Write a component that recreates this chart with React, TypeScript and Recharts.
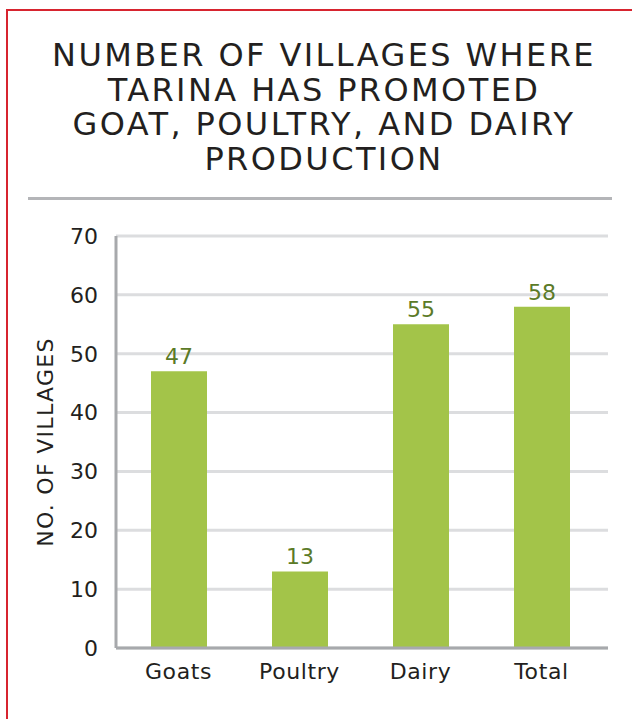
import React from "react";
import {
  BarChart,
  Bar,
  XAxis,
  YAxis,
  CartesianGrid,
  LabelList,
  Label,
} from "recharts";

const categories = ["Goats", "Poultry", "Dairy", "Total"];
const villages = [47, 13, 55, 58];
const yTicks = [0, 10, 20, 30, 40, 50, 60, 70];

const titleLines = [
  "NUMBER OF VILLAGES WHERE",
  "TARINA HAS PROMOTED",
  "GOAT, POULTRY, AND DAIRY",
  "PRODUCTION",
];

const data = categories.map((name, i) => ({ name, value: villages[i] }));

const FONT = "'DejaVu Sans', 'Noto Sans', sans-serif";
const DARK = "#231f20";

const App = () => {
  return (
    <div
      style={{
        position: "absolute",
        left: 0,
        top: 0,
        width: 632,
        height: 719,
        overflow: "hidden",
        background: "#fff",
        fontFamily: FONT,
      }}
    >
      {/* red frame, only left and top edges visible */}
      <div
        style={{
          position: "absolute",
          left: 6,
          top: 9,
          width: 800,
          height: 900,
          border: "2px solid #d7242f",
        }}
      />
      <div
        style={{
          position: "absolute",
          left: 8,
          top: 38,
          width: 632,
          textAlign: "center",
          color: DARK,
          fontSize: 32,
          lineHeight: "34.5px",
          letterSpacing: 2.4,
        }}
      >
        {titleLines.map((t) => (
          <div key={t}>{t}</div>
        ))}
      </div>
      <div
        style={{
          position: "absolute",
          left: 28,
          top: 197,
          width: 584,
          height: 3,
          background: "#b4b5b8",
        }}
      />
      <div style={{ position: "absolute", left: 0, top: 0 }}>
        <BarChart
          width={632}
          height={719}
          data={data}
          margin={{ top: 236, right: 24, bottom: 31, left: 0 }}
          barSize={56}
        >
          <CartesianGrid
            vertical={false}
            stroke="#dcdddf"
            strokeWidth={3}
          />
          <XAxis
            dataKey="name"
            height={40}
            axisLine={{ stroke: "#a7a9ac", strokeWidth: 3 }}
            tickLine={false}
            tick={{
              fill: DARK,
              fontSize: 22,
              fontFamily: FONT,
              style: { letterSpacing: 0.6 },
            }}
            tickMargin={9}
            padding={{ left: 2, right: 6 }}
          />
          <YAxis
            width={116}
            domain={[0, 70]}
            ticks={yTicks}
            interval={0}
            axisLine={{ stroke: "#a7a9ac", strokeWidth: 3 }}
            tickLine={false}
            tick={{ fill: DARK, fontSize: 22, fontFamily: FONT }}
            tickMargin={12}
          >
            <Label
              value="NO. OF VILLAGES"
              angle={-90}
              position="insideLeft"
              offset={45}
              style={{
                fill: DARK,
                fontSize: 22,
                fontFamily: FONT,
                letterSpacing: 1.3,
                textAnchor: "middle",
              }}
            />
          </YAxis>
          <Bar dataKey="value" fill="#a3c449" isAnimationActive={false}>
            <LabelList
              dataKey="value"
              position="top"
              offset={7}
              fill="#5b7a27"
              fontSize={22}
              fontFamily={FONT}
            />
          </Bar>
        </BarChart>
      </div>
    </div>
  );
};

export default App;
